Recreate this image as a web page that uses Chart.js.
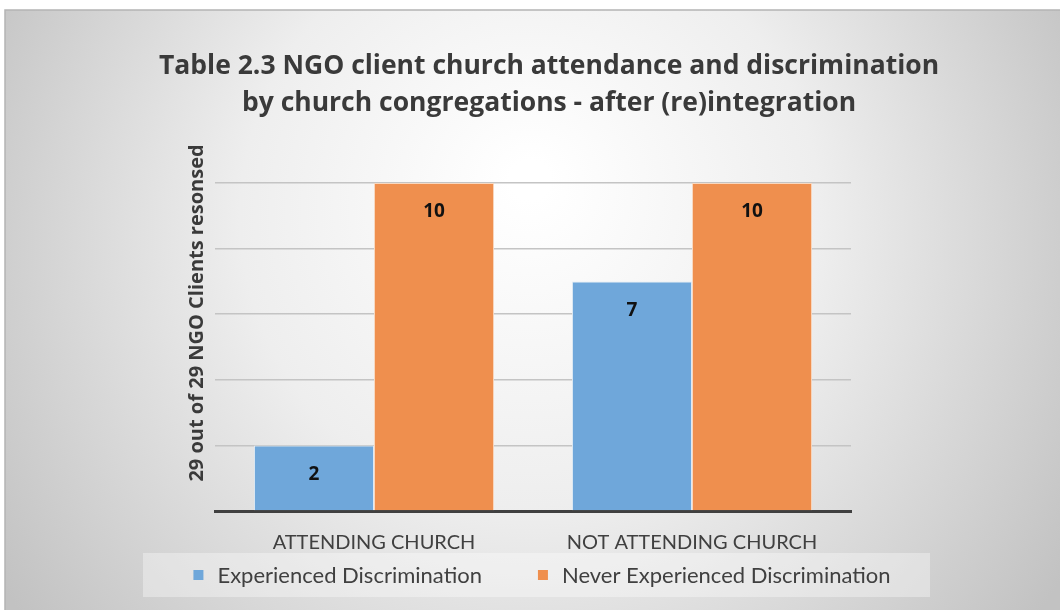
<!DOCTYPE html>
<html>
<head>
<meta charset="utf-8">
<script src="https://cdn.jsdelivr.net/npm/chart.js@4"></script>
<style>
  html, body { margin: 0; padding: 0; background: #fff; }
  #wrap { width: 1060px; height: 610px; }
</style>
</head>
<body>
<div id="wrap"><canvas id="myChart"></canvas></div>
<script>
// data
const categories = ['ATTENDING CHURCH', 'NOT ATTENDING CHURCH'];
const experienced = [2, 7];
const neverExperienced = [10, 10];
const seriesNames = ['Experienced Discrimination', 'Never Experienced Discrimination'];
const seriesColors = ['#6fa7da', '#ef8f4e'];
const titleLines = ['Table 2.3 NGO client church attendance and discrimination', 'by church congregations - after (re)integration'];
const yTitle = '29 out of 29 NGO Clients resonsed';

const BOLD = '"Open Sans", sans-serif';
const PLAIN = 'Lato, "Open Sans", sans-serif';

// grey radial background, frame, y title and the legend strip
const backdrop = {
  id: 'backdrop',
  beforeDraw(chart) {
    const c = chart.ctx;
    c.save();
    const g = c.createRadialGradient(530, 180, 20, 530, 260, 620);
    g.addColorStop(0, '#ffffff');
    g.addColorStop(0.45, '#eeeeee');
    g.addColorStop(1, '#c2c2c2');
    c.fillStyle = g;
    c.fillRect(5, 10, 1055, 600);
    c.strokeStyle = '#b4b4b4';
    c.lineWidth = 1.5;
    c.strokeRect(5, 10, 1060, 610);

    // y axis title, sits a bit above the middle of the plot like the original
    c.save();
    c.translate(197, chart.chartArea.top + 130);
    c.rotate(-Math.PI / 2);
    c.font = 'bold 20px ' + BOLD;
    c.fillStyle = '#3a3a3a';
    c.textAlign = 'center';
    c.textBaseline = 'middle';
    c.fillText(yTitle, 0, 0);
    c.restore();

    // legend: light strip with the two series
    c.fillStyle = 'rgba(255,255,255,0.35)';
    c.fillRect(143, 553, 787, 44);
    c.font = '22px ' + PLAIN;
    c.textBaseline = 'middle';
    const box = 10, gap = 14, between = 56;
    const widths = seriesNames.map(n => box + gap + c.measureText(n).width);
    let x = 542 - (widths[0] + between + widths[1]) / 2;
    const y = 575;
    seriesNames.forEach((n, i) => {
      c.fillStyle = seriesColors[i];
      c.fillRect(x, y - box / 2, box, box);
      c.fillStyle = '#404040';
      c.fillText(n, x + box + gap, y + 1);
      x += widths[i] + between;
    });
    c.restore();
  }
};

// value labels inside top of each bar
const barLabels = {
  id: 'barLabels',
  afterDatasetsDraw(chart) {
    const c = chart.ctx;
    c.save();
    c.font = 'bold 19px ' + BOLD;
    c.fillStyle = '#111';
    c.textAlign = 'center';
    c.textBaseline = 'middle';
    chart.data.datasets.forEach((ds, i) => {
      chart.getDatasetMeta(i).data.forEach((bar, j) => {
        c.fillText(ds.data[j], bar.x, bar.y + 29);
      });
    });
    c.restore();
  }
};

const ctx = document.getElementById('myChart');

new Chart(ctx, {
  type: 'bar',
  data: {
    labels: categories,
    datasets: [
      {
        label: seriesNames[0],
        data: experienced,
        backgroundColor: seriesColors[0],
        borderColor: '#dfe9f3',
        borderWidth: 1,
        categoryPercentage: 0.755,
        barPercentage: 1.0
      },
      {
        label: seriesNames[1],
        data: neverExperienced,
        backgroundColor: seriesColors[1],
        borderColor: '#f8d8c0',
        borderWidth: 1,
        categoryPercentage: 0.755,
        barPercentage: 1.0
      }
    ]
  },
  options: {
    responsive: true,
    maintainAspectRatio: false,
    animation: false,
    layout: {
      padding: { left: 38, right: 0, top: 20, bottom: 43 }
    },
    plugins: {
      title: {
        display: true,
        text: titleLines,
        color: '#3a3a3a',
        font: { family: BOLD, size: 26.5, weight: 'bold', lineHeight: 1.396 },
        padding: { top: 28, bottom: 61 }
      },
      legend: { display: false },
      tooltip: { enabled: false }
    },
    scales: {
      x: {
        grid: { display: false },
        border: { color: '#404040', width: 3 },
        ticks: {
          color: '#404040',
          font: { family: PLAIN, size: 20 },
          padding: 12
        }
      },
      y: {
        min: 0,
        max: 10,
        afterFit: s => { s.width = 177; },
        ticks: { display: false, stepSize: 2 },
        grid: { color: '#c4c4c4', lineWidth: 1.5, drawTicks: false },
        border: { display: false }
      },
      // empty axis on the right only to keep the plot narrow
      yRight: {
        position: 'right',
        min: 0,
        max: 10,
        afterFit: s => { s.width = 209; },
        ticks: { display: false },
        grid: { display: false },
        border: { display: false }
      }
    }
  },
  plugins: [backdrop, barLabels]
});
</script>
</body>
</html>
